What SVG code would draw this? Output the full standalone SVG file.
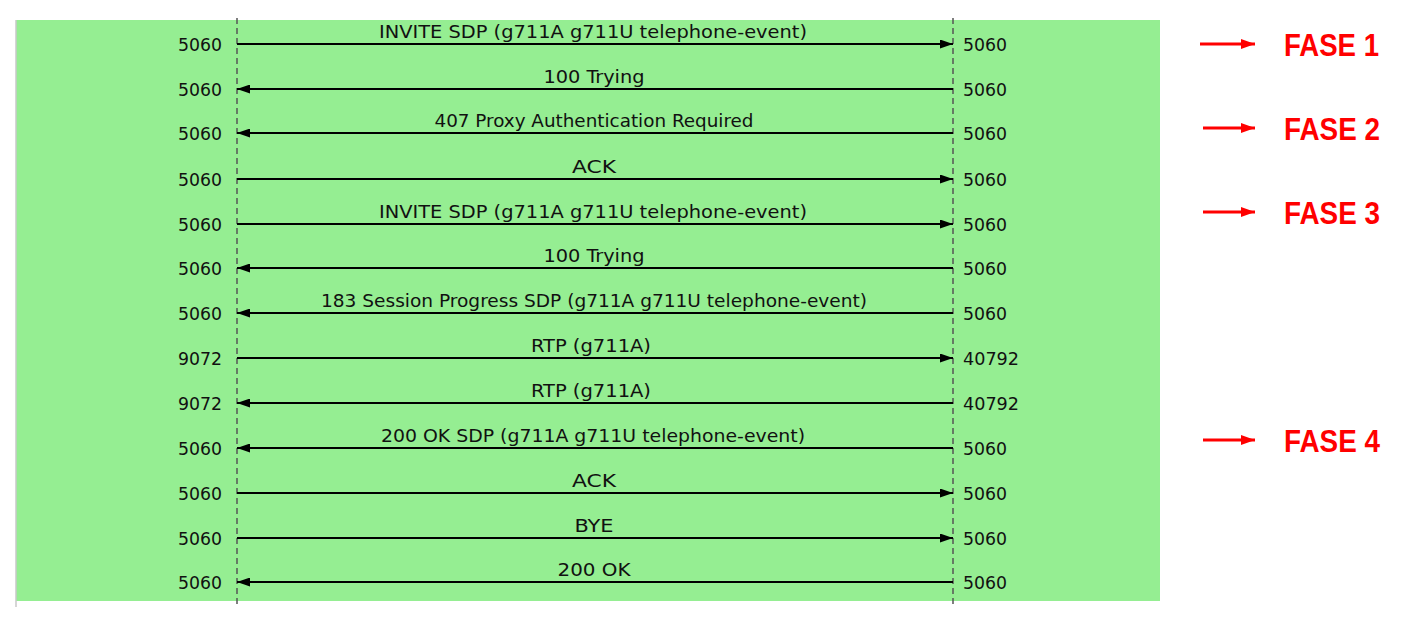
<svg xmlns="http://www.w3.org/2000/svg" width="1406" height="624" viewBox="0 0 1406 624">
<style>
.msg{font-family:Tahoma,"DejaVu Sans Condensed","DejaVu Sans",sans-serif;font-size:17px;fill:#111;text-anchor:middle}
.pl{font-family:Tahoma,"DejaVu Sans Condensed","DejaVu Sans",sans-serif;font-size:17px;fill:#111;text-anchor:end}
.pr{font-family:Tahoma,"DejaVu Sans Condensed","DejaVu Sans",sans-serif;font-size:17px;fill:#111}
.ln{stroke:#000;stroke-width:2;fill:none}
.life{stroke:#555;stroke-width:1.5;stroke-dasharray:6 4}
.fase{font-family:"Liberation Sans",Arial,sans-serif;font-weight:bold;font-size:31px;fill:#f00}
.red{stroke:#f00;stroke-width:3}
</style>
<defs>
<marker id="ah" viewBox="0 0 13 9" refX="13" refY="4.5" markerWidth="13" markerHeight="9" markerUnits="userSpaceOnUse" orient="auto">
<path d="M0,0 L13,4.5 L0,9 Z" fill="#000"/>
</marker>
<marker id="rh" viewBox="0 0 14 10" refX="14" refY="5" markerWidth="14" markerHeight="10" markerUnits="userSpaceOnUse" orient="auto">
<path d="M0,0 L14,5 L0,10 Z" fill="#f00"/>
</marker>
</defs>
<rect width="1406" height="624" fill="#fff"/>
<rect x="16" y="20" width="1144" height="581" fill="#95ee92"/>
<line x1="16" y1="20" x2="16" y2="607" stroke="#c8c8c8" stroke-width="1.5"/>
<g id="lifelines">
<line class="life" x1="237" y1="18" x2="237" y2="608"/>
<line class="life" x1="953" y1="18" x2="953" y2="608"/>
</g>
<g id="connectors">
<line class="ln" x1="237" y1="44" x2="953" y2="44" marker-end="url(#ah)"/>
<line class="ln" x1="953" y1="89" x2="237" y2="89" marker-end="url(#ah)"/>
<line class="ln" x1="953" y1="133" x2="237" y2="133" marker-end="url(#ah)"/>
<line class="ln" x1="237" y1="179" x2="953" y2="179" marker-end="url(#ah)"/>
<line class="ln" x1="237" y1="224" x2="953" y2="224" marker-end="url(#ah)"/>
<line class="ln" x1="953" y1="268" x2="237" y2="268" marker-end="url(#ah)"/>
<line class="ln" x1="953" y1="313" x2="237" y2="313" marker-end="url(#ah)"/>
<line class="ln" x1="237" y1="358" x2="953" y2="358" marker-end="url(#ah)"/>
<line class="ln" x1="953" y1="403" x2="237" y2="403" marker-end="url(#ah)"/>
<line class="ln" x1="953" y1="448" x2="237" y2="448" marker-end="url(#ah)"/>
<line class="ln" x1="237" y1="493" x2="953" y2="493" marker-end="url(#ah)"/>
<line class="ln" x1="237" y1="538" x2="953" y2="538" marker-end="url(#ah)"/>
<line class="ln" x1="953" y1="582" x2="237" y2="582" marker-end="url(#ah)"/>
</g>
<g id="messages">
<text class="msg" x="593" y="38" textLength="428" lengthAdjust="spacingAndGlyphs">INVITE SDP (g711A g711U telephone-event)</text>
<text class="msg" x="594" y="83" textLength="101" lengthAdjust="spacingAndGlyphs">100 Trying</text>
<text class="msg" x="594" y="127" textLength="319" lengthAdjust="spacingAndGlyphs">407 Proxy Authentication Required</text>
<text class="msg" x="594" y="173" textLength="44" lengthAdjust="spacingAndGlyphs">ACK</text>
<text class="msg" x="593" y="218" textLength="428" lengthAdjust="spacingAndGlyphs">INVITE SDP (g711A g711U telephone-event)</text>
<text class="msg" x="594" y="262" textLength="101" lengthAdjust="spacingAndGlyphs">100 Trying</text>
<text class="msg" x="594" y="307" textLength="546" lengthAdjust="spacingAndGlyphs">183 Session Progress SDP (g711A g711U telephone-event)</text>
<text class="msg" x="591" y="352" textLength="120" lengthAdjust="spacingAndGlyphs">RTP (g711A)</text>
<text class="msg" x="591" y="397" textLength="120" lengthAdjust="spacingAndGlyphs">RTP (g711A)</text>
<text class="msg" x="593" y="442" textLength="424" lengthAdjust="spacingAndGlyphs">200 OK SDP (g711A g711U telephone-event)</text>
<text class="msg" x="594" y="487" textLength="44" lengthAdjust="spacingAndGlyphs">ACK</text>
<text class="msg" x="594" y="532" textLength="39" lengthAdjust="spacingAndGlyphs">BYE</text>
<text class="msg" x="594" y="576" textLength="73" lengthAdjust="spacingAndGlyphs">200 OK</text>
</g>
<g id="ports-left">
<text class="pl" x="222" y="51" textLength="44" lengthAdjust="spacingAndGlyphs">5060</text>
<text class="pl" x="222" y="96" textLength="44" lengthAdjust="spacingAndGlyphs">5060</text>
<text class="pl" x="222" y="140" textLength="44" lengthAdjust="spacingAndGlyphs">5060</text>
<text class="pl" x="222" y="186" textLength="44" lengthAdjust="spacingAndGlyphs">5060</text>
<text class="pl" x="222" y="231" textLength="44" lengthAdjust="spacingAndGlyphs">5060</text>
<text class="pl" x="222" y="275" textLength="44" lengthAdjust="spacingAndGlyphs">5060</text>
<text class="pl" x="222" y="320" textLength="44" lengthAdjust="spacingAndGlyphs">5060</text>
<text class="pl" x="222" y="365" textLength="44" lengthAdjust="spacingAndGlyphs">9072</text>
<text class="pl" x="222" y="410" textLength="44" lengthAdjust="spacingAndGlyphs">9072</text>
<text class="pl" x="222" y="455" textLength="44" lengthAdjust="spacingAndGlyphs">5060</text>
<text class="pl" x="222" y="500" textLength="44" lengthAdjust="spacingAndGlyphs">5060</text>
<text class="pl" x="222" y="545" textLength="44" lengthAdjust="spacingAndGlyphs">5060</text>
<text class="pl" x="222" y="589" textLength="44" lengthAdjust="spacingAndGlyphs">5060</text>
</g>
<g id="ports-right">
<text class="pr" x="963" y="51" textLength="44" lengthAdjust="spacingAndGlyphs">5060</text>
<text class="pr" x="963" y="96" textLength="44" lengthAdjust="spacingAndGlyphs">5060</text>
<text class="pr" x="963" y="140" textLength="44" lengthAdjust="spacingAndGlyphs">5060</text>
<text class="pr" x="963" y="186" textLength="44" lengthAdjust="spacingAndGlyphs">5060</text>
<text class="pr" x="963" y="231" textLength="44" lengthAdjust="spacingAndGlyphs">5060</text>
<text class="pr" x="963" y="275" textLength="44" lengthAdjust="spacingAndGlyphs">5060</text>
<text class="pr" x="963" y="320" textLength="44" lengthAdjust="spacingAndGlyphs">5060</text>
<text class="pr" x="963" y="365" textLength="56" lengthAdjust="spacingAndGlyphs">40792</text>
<text class="pr" x="963" y="410" textLength="56" lengthAdjust="spacingAndGlyphs">40792</text>
<text class="pr" x="963" y="455" textLength="44" lengthAdjust="spacingAndGlyphs">5060</text>
<text class="pr" x="963" y="500" textLength="44" lengthAdjust="spacingAndGlyphs">5060</text>
<text class="pr" x="963" y="545" textLength="44" lengthAdjust="spacingAndGlyphs">5060</text>
<text class="pr" x="963" y="589" textLength="44" lengthAdjust="spacingAndGlyphs">5060</text>
</g>
<g id="fase1">
<line class="red" x1="1200" y1="44" x2="1255" y2="44" marker-end="url(#rh)"/>
<text class="fase" x="1284" y="56" textLength="95" lengthAdjust="spacingAndGlyphs">FASE 1</text>
</g>
<g id="fase2">
<line class="red" x1="1203" y1="128" x2="1255" y2="128" marker-end="url(#rh)"/>
<text class="fase" x="1284" y="140" textLength="96" lengthAdjust="spacingAndGlyphs">FASE 2</text>
</g>
<g id="fase3">
<line class="red" x1="1203" y1="212" x2="1255" y2="212" marker-end="url(#rh)"/>
<text class="fase" x="1284" y="224" textLength="96" lengthAdjust="spacingAndGlyphs">FASE 3</text>
</g>
<g id="fase4">
<line class="red" x1="1203" y1="440" x2="1255" y2="440" marker-end="url(#rh)"/>
<text class="fase" x="1284" y="452" textLength="96" lengthAdjust="spacingAndGlyphs">FASE 4</text>
</g>
</svg>
